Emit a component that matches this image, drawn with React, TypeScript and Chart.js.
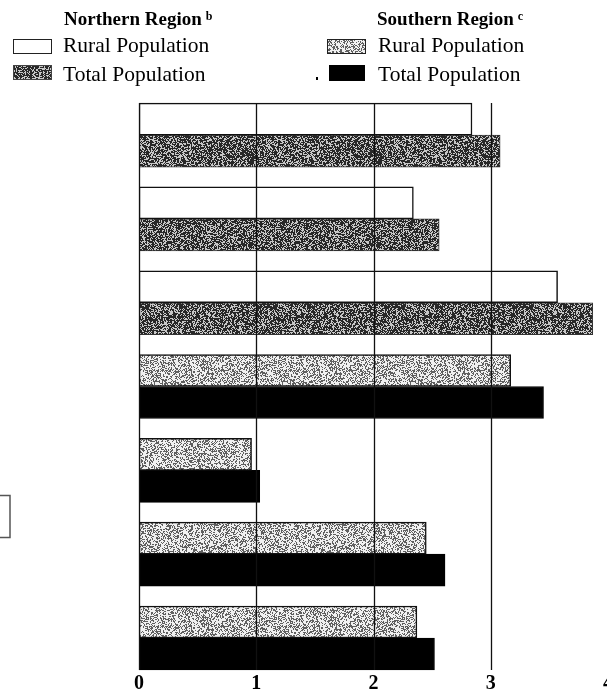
import React, { useEffect, useMemo, useRef } from "react";
import { Chart, registerables } from "chart.js";

Chart.register(...registerables);

// ---- data ----
const rowIndex = [0, 1, 2, 3, 4, 5, 6];
const rowRegion = ["Northern", "Northern", "Northern", "Southern", "Southern", "Southern", "Southern"];
const ruralPopulation = [2.84, 2.34, 3.57, 3.17, 0.96, 2.45, 2.37];
const totalPopulation = [3.08, 2.56, 3.87, 3.45, 1.03, 2.61, 2.52];
const xTickValues = [0, 1, 2, 3, 4];
const gridValues = [0, 1, 2, 3];

const serif = '"Liberation Serif", "Times New Roman", serif';

function hash2(x: number, y: number, seed: number) {
  let h = (Math.imul(x, 374761393) + Math.imul(y, 668265263) + Math.imul(seed, 982451653)) | 0;
  h = Math.imul(h ^ (h >>> 13), 1274126177);
  h ^= h >>> 16;
  return (h >>> 0) / 4294967296;
}

function makeStipple(density: number, seed: number, dark: number, light: number) {
  const size = 128;
  const c = document.createElement("canvas");
  c.width = size;
  c.height = size;
  const ctx = c.getContext("2d")!;
  const img = ctx.createImageData(size, size);
  for (let y = 0; y < size; y++) {
    for (let x = 0; x < size; x++) {
      const v = hash2(x, y, seed) < density ? dark : light;
      const i = (y * size + x) * 4;
      img.data[i] = v;
      img.data[i + 1] = v;
      img.data[i + 2] = v;
      img.data[i + 3] = 255;
    }
  }
  ctx.putImageData(img, 0, 0);
  return c;
}

const gridPlugin = {
  id: "rowGrid",
  afterDatasetsDraw(chart: any) {
    const ctx = chart.ctx;
    const xs = chart.scales.x;
    const m0 = chart.getDatasetMeta(0);
    const m1 = chart.getDatasetMeta(1);
    const first = m0.data[0];
    const last = m1.data[m1.data.length - 1];
    const top = first.y - first.height / 2;
    const bottom = last.y + last.height / 2;
    ctx.save();
    ctx.strokeStyle = "#111";
    ctx.lineWidth = 1.3;
    gridValues.forEach((v) => {
      const px = Math.round(xs.getPixelForValue(v)) + 0.5;
      ctx.beginPath();
      ctx.moveTo(px, top);
      ctx.lineTo(px, bottom);
      ctx.stroke();
    });
    // stray box at the left margin of the scanned page
    ctx.strokeStyle = "#555";
    ctx.lineWidth = 1.5;
    ctx.strokeRect(-6, 495.5, 16, 42);
    ctx.restore();
  },
};

export default function App() {
  const ref = useRef<HTMLCanvasElement | null>(null);

  const textures = useMemo(() => {
    const dark = makeStipple(0.62, 7, 40, 200);
    const light = makeStipple(0.4, 13, 95, 240);
    return { dark, light, darkUrl: dark.toDataURL(), lightUrl: light.toDataURL() };
  }, []);

  useEffect(() => {
    const canvas = ref.current!;
    const ctx = canvas.getContext("2d")!;
    const darkPat = ctx.createPattern(textures.dark, "repeat")!;
    const lightPat = ctx.createPattern(textures.light, "repeat")!;

    const ruralBg = rowRegion.map((r) => (r === "Northern" ? "#ffffff" : lightPat));
    const ruralBorder = rowRegion.map(() => "#111111");
    const totalBg = rowRegion.map((r) => (r === "Northern" ? darkPat : "#000000"));
    const totalBorder = rowRegion.map((r) => (r === "Northern" ? "#333333" : "#000000"));

    const chart = new Chart(canvas, {
      type: "bar",
      data: {
        datasets: [
          {
            label: "Rural Population",
            data: rowIndex.map((i) => ({ x: ruralPopulation[i], y: i })),
            backgroundColor: ruralBg as any,
            borderColor: ruralBorder,
            borderWidth: 1.5,
            borderSkipped: false,
          },
          {
            label: "Total Population",
            data: rowIndex.map((i) => ({ x: totalPopulation[i], y: i })),
            backgroundColor: totalBg as any,
            borderColor: totalBorder,
            borderWidth: 1,
            borderSkipped: false,
          },
        ],
      },
      options: {
        indexAxis: "y",
        animation: false,
        responsive: false,
        devicePixelRatio: 1,
        layout: { padding: { left: 139, right: 12, top: 93, bottom: 0 } },
        datasets: { bar: { barThickness: 32, categoryPercentage: 1, barPercentage: 1 } },
        plugins: { legend: { display: false }, tooltip: { enabled: false } },
        scales: {
          y: {
            type: "linear",
            display: false,
            offset: false,
            reverse: true,
            min: -0.502,
            max: 6.406,
            afterBuildTicks: (s: any) => {
              s.ticks = rowIndex.map((v) => ({ value: v }));
            },
          },
          x: {
            type: "linear",
            min: 0,
            max: 4,
            afterFit: (s: any) => {
              s.height = 20;
            },
            afterBuildTicks: (s: any) => {
              s.ticks = xTickValues.map((v) => ({ value: v }));
            },
            grid: { display: false, drawTicks: false },
            border: { display: false },
            ticks: {
              color: "#000",
              padding: 2,
              autoSkip: false,
              maxRotation: 0,
              font: { family: serif, size: 20, weight: "bold", lineHeight: 1 },
            },
          },
        },
      },
      plugins: [gridPlugin],
    });
    return () => chart.destroy();
  }, [textures]);

  const legendText: React.CSSProperties = {
    position: "absolute",
    fontFamily: serif,
    fontSize: 21.5,
    lineHeight: "21px",
    whiteSpace: "nowrap",
    color: "#000",
  };
  const heading: React.CSSProperties = {
    position: "absolute",
    fontFamily: serif,
    fontSize: 19,
    fontWeight: "bold",
    lineHeight: "19px",
    whiteSpace: "nowrap",
    color: "#000",
  };
  const sup: React.CSSProperties = {
    fontSize: 12,
    position: "relative",
    top: -5,
    marginLeft: 4,
  };
  const swatch: React.CSSProperties = {
    position: "absolute",
    width: 39,
    height: 15,
    boxSizing: "border-box",
  };

  return (
    <div
      style={{
        position: "absolute",
        left: 0,
        top: 0,
        width: 607,
        height: 692,
        overflow: "hidden",
        background: "#fff",
      }}
    >
      <canvas ref={ref} width={620} height={692} style={{ display: "block", width: 620, height: 692 }} />
      <div style={{ ...heading, left: 64, top: 9 }}>
        Northern Region<span style={sup}>b</span>
      </div>
      <div style={{ ...swatch, left: 13, top: 39, border: "1.5px solid #222", background: "#fff" }} />
      <div style={{ ...legendText, left: 63, top: 35 }}>Rural Population</div>
      <div
        style={{
          ...swatch,
          left: 13,
          top: 65,
          border: "1px solid #444",
          backgroundImage: `url(${textures.darkUrl})`,
        }}
      />
      <div style={{ ...legendText, left: 63, top: 64 }}>Total Population</div>

      <div style={{ ...heading, left: 377, top: 9 }}>
        Southern Region<span style={sup}>c</span>
      </div>
      <div
        style={{
          ...swatch,
          left: 327,
          top: 39,
          border: "1.5px solid #222",
          backgroundImage: `url(${textures.lightUrl})`,
        }}
      />
      <div style={{ ...legendText, left: 378, top: 35 }}>Rural Population</div>
      <div style={{ position: "absolute", left: 316, top: 77, width: 2, height: 3, background: "#000" }} />
      <div style={{ ...swatch, left: 329, top: 65, width: 36, height: 16, background: "#000" }} />
      <div style={{ ...legendText, left: 378, top: 64 }}>Total Population</div>
    </div>
  );
}
